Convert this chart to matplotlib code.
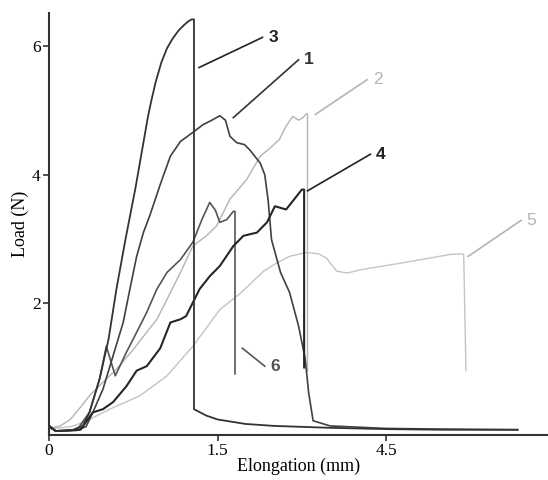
import matplotlib
matplotlib.use('Agg')
import matplotlib.pyplot as plt

# x is in axis units: the ticks sit at 0, 1.5, 3.0 but are labelled 0, 1.5, 4.5
x_ticks = [0, 1.5, 3.0]
x_tick_labels = ['0', '1.5', '4.5']
y_ticks = [2, 4, 6]

# curve 3
c3_x = [0, 0.06, 0.20, 0.30, 0.36, 0.45, 0.53, 0.60, 0.68, 0.77, 0.84, 0.88, 0.91, 0.95,
        1.00, 1.05, 1.10, 1.15, 1.20, 1.24, 1.27, 1.29, 1.29, 1.40, 1.50, 1.75, 2.00,
        2.50, 3.00, 3.50, 4.17]
c3_y = [0.10, 0.01, 0.02, 0.09, 0.30, 0.82, 1.44, 2.22, 2.99, 3.80, 4.50, 4.90, 5.15, 5.45,
        5.75, 5.97, 6.12, 6.24, 6.33, 6.39, 6.42, 6.42, 0.35, 0.25, 0.19, 0.12, 0.09,
        0.06, 0.04, 0.03, 0.03]

# curve 1
c1_x = [0, 0.06, 0.25, 0.33, 0.39, 0.48, 0.57, 0.66, 0.72, 0.78, 0.84, 0.90, 0.99,
        1.08, 1.17, 1.28, 1.37, 1.46, 1.52, 1.57, 1.61, 1.67, 1.74, 1.79, 1.88, 1.92,
        1.95, 1.98, 2.06, 2.14, 2.22, 2.28, 2.31, 2.35, 2.50, 3.00, 3.50, 4.17]
c1_y = [0.08, 0.01, 0.02, 0.08, 0.30, 0.66, 1.18, 1.70, 2.22, 2.73, 3.10, 3.38, 3.85,
        4.29, 4.52, 4.66, 4.78, 4.86, 4.92, 4.85, 4.60, 4.50, 4.47, 4.38, 4.18, 4.00,
        3.60, 2.99, 2.48, 2.17, 1.65, 1.13, 0.61, 0.17, 0.09, 0.05, 0.04, 0.03]

# curve 2
c2_x = [0, 0.10, 0.19, 0.28, 0.36, 0.51, 0.60, 0.75, 0.87, 0.96, 1.05, 1.17, 1.28,
        1.40, 1.49, 1.61, 1.76, 1.88, 1.95, 2.05, 2.11, 2.17, 2.22, 2.26, 2.29, 2.30, 2.30]
c2_y = [0.05, 0.09, 0.19, 0.38, 0.56, 0.82, 0.97, 1.28, 1.55, 1.75, 2.06, 2.48, 2.89,
        3.05, 3.20, 3.62, 3.93, 4.29, 4.39, 4.55, 4.76, 4.91, 4.85, 4.89, 4.95, 4.95, 0.95]

# curve 4
c4_x = [0, 0.06, 0.28, 0.39, 0.48, 0.57, 0.69, 0.78, 0.87, 0.99, 1.08, 1.17, 1.22,
        1.34, 1.43, 1.52, 1.64, 1.73, 1.85, 1.94, 2.01, 2.11, 2.25, 2.27, 2.27]
c4_y = [0.08, 0.01, 0.03, 0.30, 0.35, 0.46, 0.71, 0.95, 1.02, 1.30, 1.70, 1.75, 1.80,
        2.22, 2.42, 2.58, 2.89, 3.05, 3.10, 3.26, 3.51, 3.46, 3.77, 3.77, 1.00]

# curve 5
c5_x = [0, 0.10, 0.20, 0.34, 0.54, 0.81, 1.05, 1.28, 1.52, 1.70, 1.91, 2.03, 2.14,
        2.29, 2.40, 2.47, 2.56, 2.65, 2.80, 3.15, 3.57, 3.67, 3.69, 3.71]
c5_y = [0.05, 0.06, 0.08, 0.17, 0.35, 0.56, 0.87, 1.33, 1.90, 2.15, 2.50, 2.63, 2.73,
        2.79, 2.77, 2.70, 2.50, 2.47, 2.53, 2.63, 2.76, 2.77, 2.76, 0.95]

# curve 6
c6_x = [0, 0.06, 0.25, 0.36, 0.45, 0.51, 0.55, 0.59, 0.69, 0.81, 0.87, 0.96, 1.05,
        1.17, 1.28, 1.36, 1.43, 1.48, 1.52, 1.58, 1.64, 1.655, 1.655]
c6_y = [0.08, 0.01, 0.03, 0.30, 0.82, 1.33, 1.10, 0.87, 1.24, 1.65, 1.86, 2.22, 2.48,
        2.68, 2.95, 3.30, 3.57, 3.45, 3.26, 3.30, 3.43, 3.43, 0.90]

# curve labels: name, leader start, text position
label_names = ['3', '1', '2', '4', '5', '6']
leader_start = [(1.335, 5.67), (1.64, 4.89), (2.37, 4.94), (2.30, 3.75), (3.73, 2.73), (1.72, 1.30)]
label_pos = [(1.90, 6.14), (2.22, 5.79), (2.83, 5.48), (2.86, 4.32), (4.20, 3.29), (1.92, 1.02)]

fig = plt.figure(figsize=(5.48, 4.8), dpi=100)
ax = fig.add_axes([0.0894, 0.094, 0.9106, 0.879])

ax.plot(c5_x, c5_y, color='#c4c4c4', lw=1.0)
ax.plot(c2_x, c2_y, color='#b4b4b4', lw=1.0)
ax.plot(c6_x, c6_y, color='#555555', lw=1.2)
ax.plot(c1_x, c1_y, color='#404040', lw=1.2)
ax.plot(c4_x, c4_y, color='#262626', lw=1.5)
ax.plot(c3_x, c3_y, color='#333333', lw=1.3)

label_colors = ['#222222', '#333333', '#b4b4b4', '#222222', '#b4b4b4', '#555555']
label_weights = ['bold', 'bold', 'normal', 'bold', 'normal', 'bold']
for name, p0, p1, col, w in zip(label_names, leader_start, label_pos, label_colors, label_weights):
    ax.plot([p0[0], p1[0]], [p0[1], p1[1]], color=col, lw=1.2)
    ax.text(p1[0] + 0.05, p1[1], name, color=col, fontsize=12.5, fontweight=w,
            family='Liberation Sans', ha='left', va='center')

ax.set_xlim(0, 4.44)
ax.set_ylim(-0.05, 6.52)
ax.set_xticks(x_ticks)
ax.set_xticklabels(x_tick_labels)
ax.set_yticks(y_ticks)
for s in ['top', 'right']:
    ax.spines[s].set_visible(False)
for s in ['left', 'bottom']:
    ax.spines[s].set_color('#333333')
    ax.spines[s].set_linewidth(1.5)
ax.tick_params(length=4, width=1.2, color='#333333', labelsize=12.5, pad=2)
for t in ax.get_xticklabels() + ax.get_yticklabels():
    t.set_family('Liberation Serif')

ax.set_xlabel('Elongation (mm)', family='Liberation Serif', fontsize=13, labelpad=-1)
ax.set_ylabel('Load (N)', family='Liberation Serif', fontsize=13, labelpad=2)

fig.savefig('out.png', dpi=100)
